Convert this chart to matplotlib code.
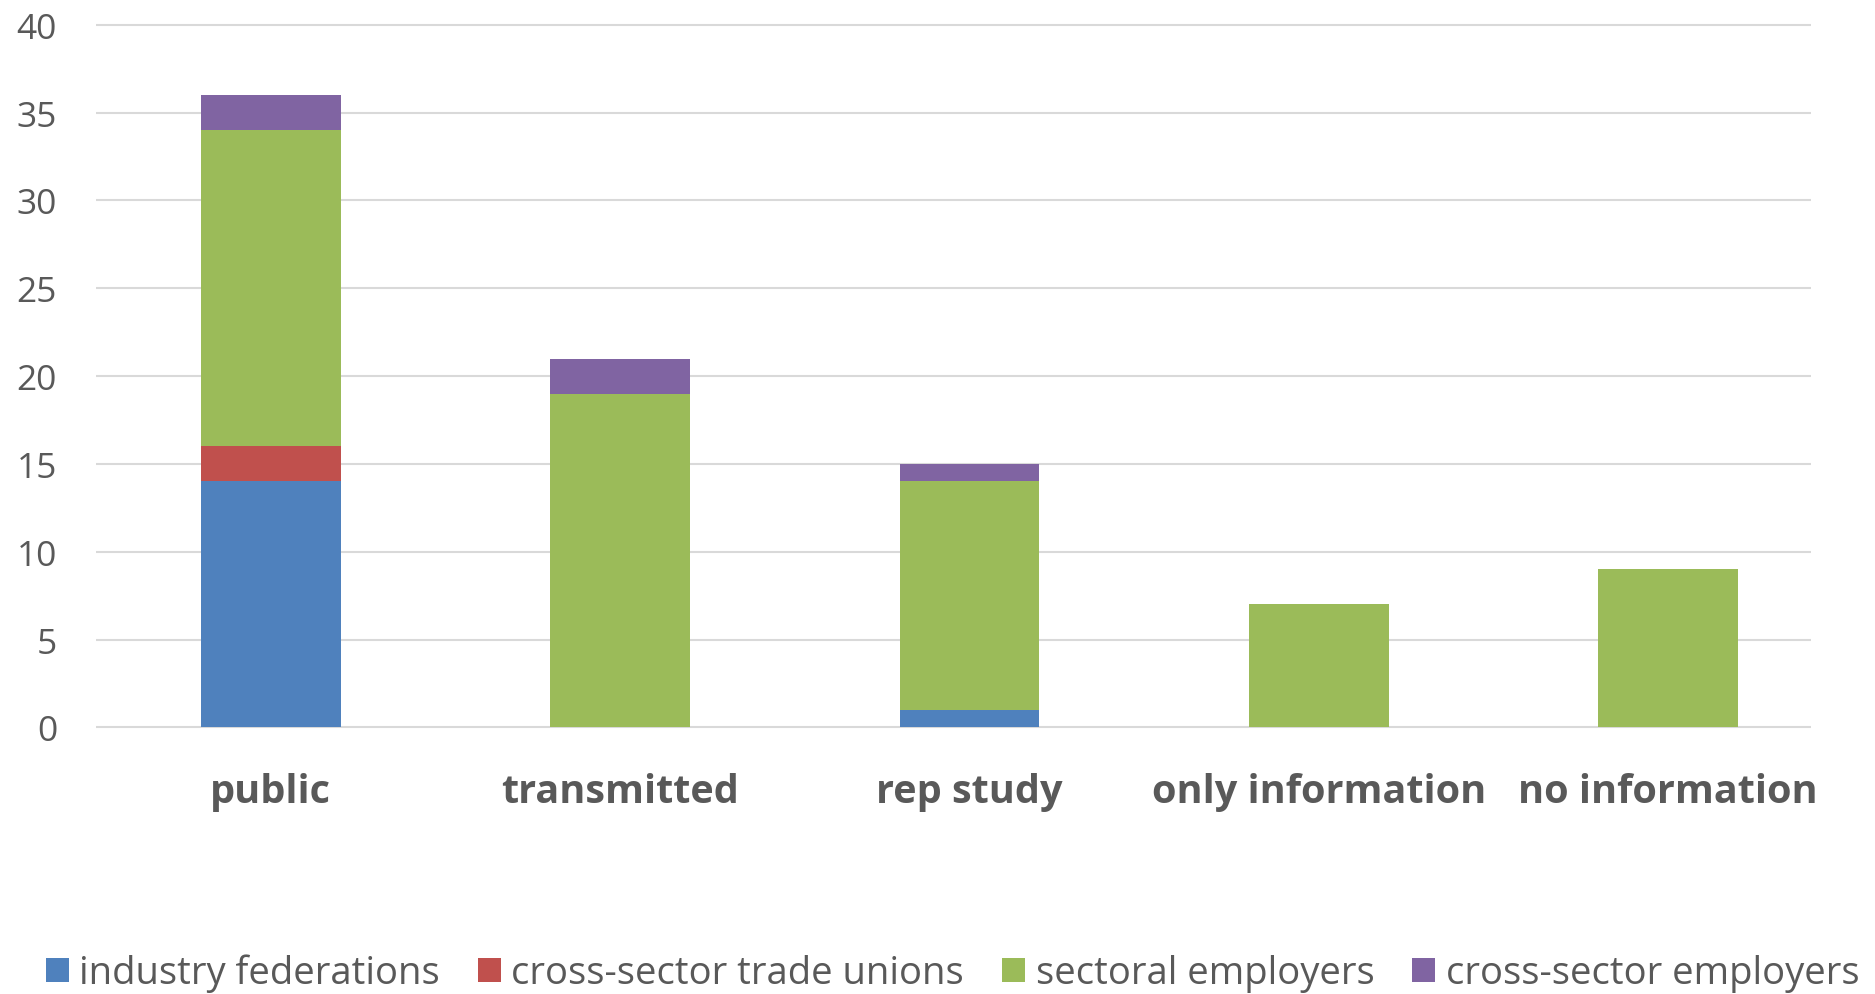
import matplotlib
matplotlib.use("Agg")
import matplotlib.pyplot as plt
import numpy as np

plt.rcParams['font.family'] = ['Open Sans', 'DejaVu Sans']

categories = ['public', 'transmitted', 'rep study', 'only information', 'no information']
industry_federations = [14, 0, 1, 0, 0]
cross_sector_unions = [2, 0, 0, 0, 0]
sectoral_employers = [18, 19, 13, 7, 9]
cross_sector_employers = [2, 2, 1, 0, 0]

series = [
    ('industry federations', industry_federations, '#4F81BD'),
    ('cross-sector trade unions', cross_sector_unions, '#C0504D'),
    ('sectoral employers', sectoral_employers, '#9BBB59'),
    ('cross-sector employers', cross_sector_employers, '#8064A2'),
]

text_col = '#595959'
fig = plt.figure(figsize=(18.75, 9.95), dpi=100)
# axes span the full category band; gridlines stop a little short on the right
ax = fig.add_axes([0.0512, 0.268, 0.9317, 0.706])

x = np.arange(len(categories))
bottom = np.zeros(len(categories))
for name, vals, col in series:
    vals = np.array(vals, dtype=float)
    ax.bar(x, vals, 0.4, bottom=bottom, color=col, label=name, zorder=3)
    bottom += vals

ax.set_xlim(-0.5, len(categories) - 0.5)
ax.set_ylim(0, 40)
yticks = list(range(0, 41, 5))
ax.set_yticks(yticks)
ax.hlines(yticks, -0.5, 4.41, color='#D9D9D9', lw=1.5, zorder=0, clip_on=False)
for s in ax.spines.values():
    s.set_visible(False)
ax.tick_params(axis='both', length=0)
ax.tick_params(axis='y', labelsize=25.5, labelcolor=text_col, pad=28)
ax.set_xticks(x)
ax.set_xticklabels(categories, fontsize=28.5, fontweight='bold', color=text_col)
ax.tick_params(axis='x', pad=32)

leg = fig.legend(loc='center left', bbox_to_anchor=(0.0245, 0.021), ncol=4, frameon=False,
                 fontsize=27.5, handlelength=0.6, handleheight=0.6, handletextpad=0.27,
                 columnspacing=1.0, labelcolor=text_col, borderpad=0, borderaxespad=0)

fig.savefig('out.png', dpi=100)
